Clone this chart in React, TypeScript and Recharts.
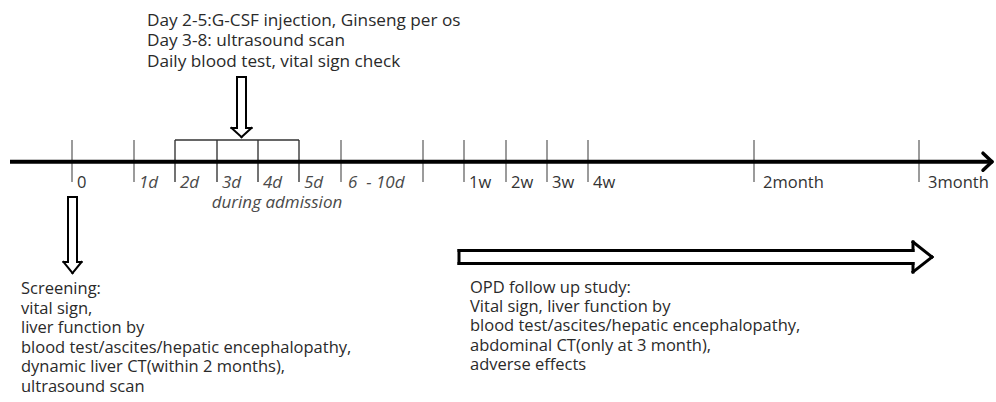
import { ComposedChart, XAxis, YAxis, Scatter, ReferenceLine } from 'recharts';

// timeline tick marks (position along the drawing) and their labels
const tickPos = [72, 134, 175, 217, 258, 299, 341, 423, 464, 506, 547, 588, 754, 919];
const tickLabels = ['0', '1d', '2d', '3d', '4d', '5d', '6  - 10d', '', '1w', '2w', '3w', '4w', '2month', '3month'];
const italicTicks = ['1d', '2d', '3d', '4d', '5d', '6  - 10d'];
const admissionTicks = ['2d', '3d', '4d', '5d'];

const admissionLabel = 'during admission';

const topNotes = [
  'Day 2-5:G-CSF injection, Ginseng per os',
  'Day 3-8: ultrasound scan',
  'Daily blood test, vital sign check',
];

const screeningNotes = [
  'Screening:',
  'vital sign,',
  'liver function by',
  'blood test/ascites/hepatic encephalopathy,',
  'dynamic liver CT(within 2 months),',
  'ultrasound scan',
];

const opdNotes = [
  'OPD follow up study:',
  'Vital sign, liver function by',
  'blood test/ascites/hepatic encephalopathy,',
  'abdominal CT(only at 3 month),',
  'adverse effects',
];

const W = 996;
const H = 402;
const FONT = '"Open Sans", "Noto Sans", sans-serif';
const AXIS_Y = 161.7;
const TICK_TOP = 140;
const TICK_BOTTOM = 182;

type Pt = { x: number; y: number };

// hollow block arrow pointing down
const downArrow = (cx: number, top: number, tip: number, shaft: number, head: number, headLen: number): Pt[] => [
  { x: cx - shaft / 2, y: top },
  { x: cx + shaft / 2, y: top },
  { x: cx + shaft / 2, y: tip - headLen },
  { x: cx + head / 2, y: tip - headLen },
  { x: cx, y: tip },
  { x: cx - head / 2, y: tip - headLen },
  { x: cx - shaft / 2, y: tip - headLen },
  { x: cx - shaft / 2, y: top },
];

// hollow block arrow pointing right
const rightArrow = (left: number, tip: number, cy: number, shaft: number, head: number, headLen: number): Pt[] => [
  { x: left, y: cy - shaft / 2 },
  { x: tip - headLen, y: cy - shaft / 2 },
  { x: tip - headLen, y: cy - head / 2 },
  { x: tip, y: cy },
  { x: tip - headLen, y: cy + head / 2 },
  { x: tip - headLen, y: cy + shaft / 2 },
  { x: left, y: cy + shaft / 2 },
  { x: left, y: cy - shaft / 2 },
];

const outline = (pts: Pt[], key: string, width: number) =>
  pts.slice(1).map((p, i) => (
    <ReferenceLine
      key={`${key}${i}`}
      segment={[pts[i], p]}
      stroke="#000"
      strokeWidth={width}
      strokeLinecap="square"
      ifOverflow="visible"
    />
  ));

const TextBlock = (props: any) => {
  const { cx, cy, payload } = props;
  if (cx == null || cy == null) return null;
  return (
    <text
      x={cx}
      y={cy}
      fontFamily={FONT}
      fontSize={payload.size}
      fontStyle={payload.italic ? 'italic' : 'normal'}
      fill={payload.color}
      textAnchor={payload.anchor || 'start'}
      style={{ whiteSpace: 'pre' }}
    >
      {payload.lines.map((l: string, i: number) => (
        <tspan key={i} x={cx} dy={i === 0 ? 0 : payload.lh}>
          {l}
        </tspan>
      ))}
    </text>
  );
};

export default function App() {
  const first = tickPos[tickLabels.indexOf(admissionTicks[0])];
  const last = tickPos[tickLabels.indexOf(admissionTicks[admissionTicks.length - 1])];

  const texts = [
    ...tickPos
      .map((p, i) => {
        const label = tickLabels[i];
        const italic = italicTicks.includes(label);
        return {
          x: p + (label.includes('month') ? 9 : italic && label.length > 2 ? 7 : 5),
          y: 188,
          lines: [label],
          italic,
          color: italic ? '#4a4a4a' : '#333',
          size: italic ? 17 : 16.5,
          lh: 0,
        };
      })
      .filter((t) => t.lines[0] !== ''),
    { x: (first + last) / 2 + 40, y: 208, lines: [admissionLabel], italic: true, color: '#4a4a4a', size: 17, lh: 0, anchor: 'middle' },
    { x: 147, y: 26, lines: topNotes, italic: false, color: '#2a2a2a', size: 17.2, lh: 20.3 },
    { x: 21, y: 294, lines: screeningNotes, italic: false, color: '#2a2a2a', size: 16.5, lh: 19.5 },
    { x: 470, y: 293, lines: opdNotes, italic: false, color: '#2a2a2a', size: 16.5, lh: 19.2 },
  ];

  return (
    <div style={{ position: 'absolute', left: 0, top: 0, width: W, height: H, background: '#fff' }}>
      <ComposedChart width={W} height={H} margin={{ top: 0, right: 0, bottom: 0, left: 0 }}>
        <XAxis type="number" dataKey="x" domain={[0, W]} allowDataOverflow hide />
        <YAxis type="number" dataKey="y" domain={[0, H]} reversed allowDataOverflow hide />

        {tickPos.map((p, i) => (
          <ReferenceLine
            key={`t${i}`}
            segment={[
              { x: p, y: TICK_TOP },
              { x: p, y: TICK_BOTTOM },
            ]}
            stroke={admissionTicks.includes(tickLabels[i]) ? '#444' : '#7a7a7a'}
            strokeWidth={1.5}
          />
        ))}
        <ReferenceLine
          segment={[
            { x: first, y: TICK_TOP },
            { x: last, y: TICK_TOP },
          ]}
          stroke="#333"
          strokeWidth={1.5}
        />

        {/* main time axis with open arrow head */}
        <ReferenceLine
          segment={[
            { x: 10, y: AXIS_Y },
            { x: 991, y: AXIS_Y },
          ]}
          stroke="#000"
          strokeWidth={4}
        />
        <ReferenceLine
          segment={[
            { x: 983, y: AXIS_Y - 8.5 },
            { x: 992, y: AXIS_Y },
          ]}
          stroke="#000"
          strokeWidth={3.5}
          strokeLinecap="round"
        />
        <ReferenceLine
          segment={[
            { x: 992, y: AXIS_Y },
            { x: 983, y: AXIS_Y + 8.5 },
          ]}
          stroke="#000"
          strokeWidth={3.5}
          strokeLinecap="round"
        />

        {outline(downArrow(241.5, 77, 137, 9, 20, 9), 'a', 2)}
        {outline(downArrow(72.5, 197, 273, 9, 18, 11), 'b', 2)}
        {outline(rightArrow(459, 932, 257, 13, 30, 19), 'c', 3)}

        <Scatter data={texts} shape={TextBlock} isAnimationActive={false} />
      </ComposedChart>
    </div>
  );
}
